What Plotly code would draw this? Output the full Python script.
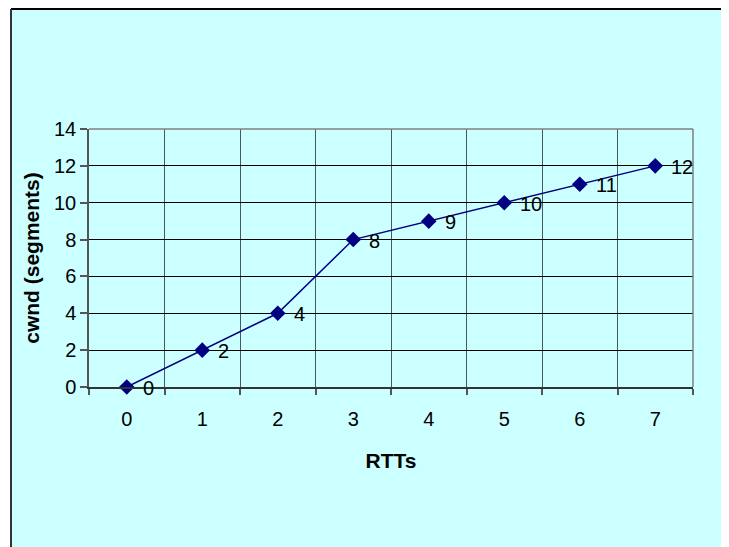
import plotly.graph_objects as go

rtts = [0, 1, 2, 3, 4, 5, 6, 7]
cwnd = [0, 2, 4, 8, 9, 10, 11, 12]
point_labels = ["0", "2", "4", "8", "9", "10", "11", "12"]
y_ticks = [0, 2, 4, 6, 8, 10, 12, 14]

# page body has an 8px margin, so the figure is drawn 8px smaller and offset
OFF = 8
W, H = 729 - OFF, 547 - OFF
L, R, T, B = 89 - OFF, 36, 129 - OFF, 160
pw, ph = W - L - R, H - T - B

BG = "#CCFFFF"
NAVY = "#000080"
FONT = "Arial, Liberation Sans, sans-serif"
FS = 20
FT = 21

fig = go.Figure()
fig.add_trace(go.Scatter(
    x=rtts, y=cwnd, mode="lines+markers",
    line=dict(color=NAVY, width=1.5),
    marker=dict(symbol="diamond", size=12, color=NAVY),
    hoverinfo="skip", showlegend=False, cliponaxis=False,
))

annotations = []
for xv, yv, t in zip(rtts, cwnd, point_labels):
    annotations.append(dict(x=xv, y=yv, text=t, showarrow=False, xanchor="left",
                            yanchor="middle", xshift=14, yshift=-1,
                            font=dict(family=FONT, size=FS, color="black")))


def px_x(p):
    return (p - L) / pw


def px_y(p):
    return 1 - (p - T) / ph


shapes = [
    dict(type="rect", xref="paper", yref="paper", layer="below",
         x0=px_x(3), x1=px_x(W + 20), y0=px_y(H + 20), y1=px_y(1),
         fillcolor=BG, line=dict(width=0)),
    dict(type="line", xref="paper", yref="paper", layer="below",
         x0=px_x(3), x1=px_x(W + 20), y0=px_y(1), y1=px_y(1),
         line=dict(color="black", width=2)),
    dict(type="line", xref="paper", yref="paper", layer="below",
         x0=px_x(3), x1=px_x(3), y0=px_y(1), y1=px_y(H + 20),
         line=dict(color="#333333", width=2)),
    dict(type="line", xref="paper", yref="paper",
         x0=0, x1=1, y0=1, y1=1, line=dict(color="#808080", width=1.5)),
    dict(type="line", xref="paper", yref="paper",
         x0=1, x1=1, y0=0, y1=1, line=dict(color="#808080", width=1.5)),
]

fig.update_layout(
    width=W, height=H,
    margin=dict(l=L, r=R, t=T, b=B),
    paper_bgcolor="white",
    plot_bgcolor=BG,
    font=dict(family=FONT, size=FS, color="black"),
    shapes=shapes,
    annotations=annotations,
    xaxis=dict(
        range=[-0.5, 7.5],
        tickvals=rtts, ticktext=[str(v) for v in rtts],
        ticks="", showgrid=False, zeroline=False,
        showline=True, linecolor="#333333", linewidth=1.5,
        tickfont=dict(size=FS), ticklabelstandoff=13,
        minor=dict(tickvals=[v - 0.5 for v in rtts] + [7.5], ticks="outside",
                   ticklen=6, tickcolor="#555555", tickwidth=1.5,
                   showgrid=True, gridcolor="#4A5A5A", gridwidth=1.2),
        title=dict(text="<b>RTTs</b>", font=dict(size=FT), standoff=25),
        fixedrange=True,
    ),
    yaxis=dict(
        range=[0, 14],
        tickvals=y_ticks,
        ticks="outside", ticklen=7, tickcolor="#555555", tickwidth=1.5,
        showgrid=True, gridcolor="black", gridwidth=1,
        zeroline=False,
        showline=True, linecolor="#555555", linewidth=1.5,
        tickfont=dict(size=FS),
        title=dict(text="<b>cwnd (segments)</b>", font=dict(size=FT), standoff=9),
        fixedrange=True,
    ),
)

fig.write_html("out.html")
